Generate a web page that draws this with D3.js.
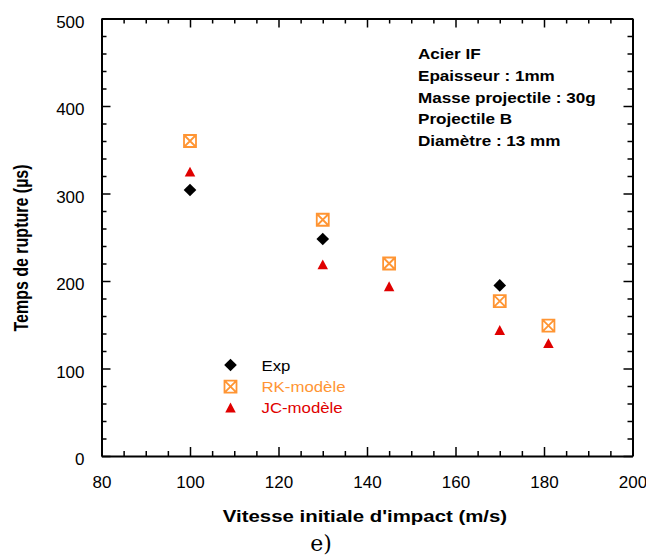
<!DOCTYPE html>
<html>
<head>
<meta charset="utf-8">
<script src="https://cdn.jsdelivr.net/npm/d3@7"></script>
<style>
  html, body { margin: 0; padding: 0; background: #fff; }
  svg { display: block; font-family: Arial, "Liberation Sans", sans-serif; }
</style>
</head>
<body>
<svg id="chart" width="646" height="560"></svg>
<script>
// ---- data ----
const expX = [100, 130, 170];
const expY = [304, 248, 195];
const rkX = [100, 130, 145, 170, 181];
const rkY = [360, 270, 220, 177, 149];
const jcX = [100, 130, 145, 170, 181];
const jcY = [325, 219, 194, 144, 129];

const xMajorTicks = [80, 100, 120, 140, 160, 180, 200];
const yMajorTicks = [0, 100, 200, 300, 400, 500];

const seriesNames = ["Exp", "RK-modèle", "JC-modèle"];
const annotationLines = ["Acier IF", "Epaisseur : 1mm", "Masse projectile : 30g", "Projectile B", "Diamètre : 13 mm"];
const xTitle = "Vitesse initiale d'impact (m/s)";
const yTitle = "Temps de rupture (µs)";
const caption = "e)";

// ---- layout ----
const L = 101.5, R = 632.5, T = 18.5, B = 456;
const colExp = "#000000", colRK = "#FF9533", colJC = "#E00000";

const svg = d3.select("#chart");
const x = d3.scaleLinear().domain([80, 200]).range([L, R]);
const y = d3.scaleLinear().domain([0, 500]).range([B, T]);

const xMinor = d3.range(80, 201, 5).filter(v => v % 20 !== 0);
const yMinor = d3.range(0, 501, 20).filter(v => v % 100 !== 0);

function styleAxis(g) {
  g.select(".domain").attr("stroke", "#000").attr("stroke-width", 2);
  g.selectAll(".tick line").attr("stroke", "#000").attr("stroke-width", 1.5);
}

// bottom
const gB = svg.append("g").attr("transform", `translate(0,${B})`)
  .call(d3.axisBottom(x).tickValues(xMajorTicks).tickSize(-9).tickSizeOuter(0));
styleAxis(gB);
gB.selectAll("text").attr("y", 32).attr("dy", null)
  .attr("font-size", 17).attr("fill", "#000").attr("font-family", "Arial, 'Liberation Sans', sans-serif");
const gBm = svg.append("g").attr("transform", `translate(0,${B})`)
  .call(d3.axisBottom(x).tickValues(xMinor).tickSize(-5).tickFormat(""));
gBm.select(".domain").remove();
styleAxis(gBm);

// top
const gT = svg.append("g").attr("transform", `translate(0,${T})`)
  .call(d3.axisTop(x).tickValues(xMajorTicks).tickSize(-9).tickSizeOuter(0).tickFormat(""));
styleAxis(gT);
const gTm = svg.append("g").attr("transform", `translate(0,${T})`)
  .call(d3.axisTop(x).tickValues(xMinor).tickSize(-5).tickFormat(""));
gTm.select(".domain").remove();
styleAxis(gTm);

// left
const gL = svg.append("g").attr("transform", `translate(${L},0)`)
  .call(d3.axisLeft(y).tickValues(yMajorTicks).tickSize(-9).tickSizeOuter(0));
styleAxis(gL);
gL.selectAll("text").attr("x", -17).attr("dy", "0.5em")
  .attr("font-size", 17).attr("fill", "#000").attr("font-family", "Arial, 'Liberation Sans', sans-serif");
const gLm = svg.append("g").attr("transform", `translate(${L},0)`)
  .call(d3.axisLeft(y).tickValues(yMinor).tickSize(-5).tickFormat(""));
gLm.select(".domain").remove();
styleAxis(gLm);

// right
const gR = svg.append("g").attr("transform", `translate(${R},0)`)
  .call(d3.axisRight(y).tickValues(yMajorTicks).tickSize(-9).tickSizeOuter(0).tickFormat(""));
styleAxis(gR);
const gRm = svg.append("g").attr("transform", `translate(${R},0)`)
  .call(d3.axisRight(y).tickValues(yMinor).tickSize(-5).tickFormat(""));
gRm.select(".domain").remove();
styleAxis(gRm);

// ---- symbols ----
const boxCross = {
  draw(ctx, size) {
    const h = Math.sqrt(size) / 2;
    ctx.moveTo(-h, -h); ctx.lineTo(h, -h); ctx.lineTo(h, h); ctx.lineTo(-h, h); ctx.closePath();
    ctx.moveTo(-h, -h); ctx.lineTo(h, h);
    ctx.moveTo(h, -h); ctx.lineTo(-h, h);
  }
};
const diamond = {
  draw(ctx, size) {
    const h = Math.sqrt(size) / 2;
    ctx.moveTo(0, -h); ctx.lineTo(h, 0); ctx.lineTo(0, h); ctx.lineTo(-h, 0); ctx.closePath();
  }
};
const tri = {
  draw(ctx, size) {
    const w = Math.sqrt(size) / 2; // half width
    const hh = w * 0.95;
    ctx.moveTo(0, -hh); ctx.lineTo(w, hh); ctx.lineTo(-w, hh); ctx.closePath();
  }
};
const symDiamond = d3.symbol().type(diamond).size(12.6 * 12.6);
const symBox = d3.symbol().type(boxCross).size(12 * 12);
const symTri = d3.symbol().type(tri).size(10.5 * 10.5);

function drawBox(g) {
  g.attr("fill", "none").attr("stroke", colRK).attr("stroke-width", 1.8).attr("d", symBox);
}

const pts = svg.append("g");
pts.selectAll(".rk").data(rkX.map((v, i) => [v, rkY[i]])).join("path")
  .attr("transform", d => `translate(${x(d[0])},${y(d[1])})`).call(drawBox);
pts.selectAll(".jc").data(jcX.map((v, i) => [v, jcY[i]])).join("path")
  .attr("transform", d => `translate(${x(d[0])},${y(d[1])})`)
  .attr("fill", colJC).attr("d", symTri);
pts.selectAll(".exp").data(expX.map((v, i) => [v, expY[i]])).join("path")
  .attr("transform", d => `translate(${x(d[0])},${y(d[1])})`)
  .attr("fill", colExp).attr("d", symDiamond);

// ---- legend ----
const legCols = [colExp, colRK, colJC];
const legRowsY = [365, 386.7, 407.5];
const leg = svg.append("g");
leg.append("path").attr("transform", `translate(230.5,${legRowsY[0]})`).attr("fill", colExp).attr("d", symDiamond);
leg.append("path").attr("transform", `translate(230.5,${legRowsY[1]})`).call(drawBox);
leg.append("path").attr("transform", `translate(230.5,${legRowsY[2]})`).attr("fill", colJC).attr("d", symTri);
seriesNames.forEach((n, i) => {
  leg.append("text")
    .attr("transform", `translate(261.5,${legRowsY[i] + 5.5}) scale(1.2,1)`)
    .attr("font-size", 14).attr("fill", legCols[i]).text(n);
});

// ---- annotation ----
annotationLines.forEach((t, i) => {
  svg.append("text")
    .attr("transform", `translate(418,${59 + i * 21.75}) scale(1.18,1)`)
    .attr("font-size", 14.5).attr("font-weight", "bold").attr("fill", "#000").text(t);
});

// ---- axis titles ----
svg.append("text")
  .attr("transform", `translate(${(L + R) / 2 - 2},522) scale(1.2,1)`)
  .attr("text-anchor", "middle").attr("font-size", 17).attr("font-weight", "bold").text(xTitle);
svg.append("text")
  .attr("transform", `translate(28,248) rotate(-90) scale(1,1.25)`)
  .attr("text-anchor", "middle").attr("font-size", 16).attr("font-weight", "bold").text(yTitle);

// ---- caption ----
svg.append("text")
  .attr("x", 321).attr("y", 551).attr("text-anchor", "middle")
  .attr("font-family", "'DejaVu Serif', 'Liberation Serif', serif").attr("font-size", 22).text(caption);
</script>
</body>
</html>
